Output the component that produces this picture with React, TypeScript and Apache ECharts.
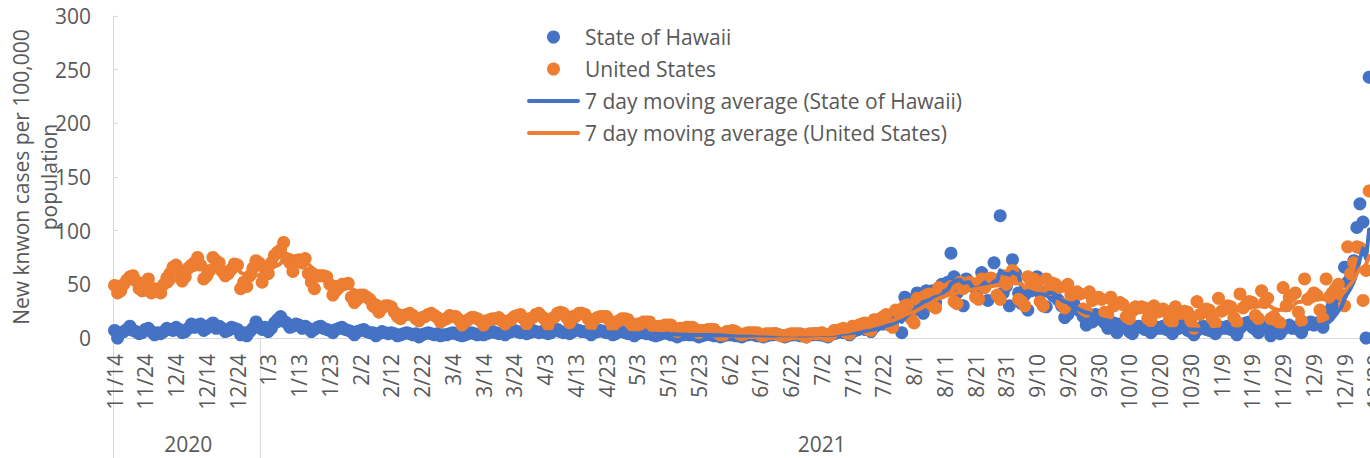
import React, { useEffect, useRef } from "react";
import * as echarts from "echarts";

// Daily categories: 11/14/2020 .. 12/31/2021
const START_YEAR = 2020;
const START_MONTH = 10; // November (0-based)
const START_DAY = 14;
const DAY_COUNT = 413;

// New known cases per 100,000 population, daily, starting 11/14/2020 (rows are weeks Sat..Fri)
const hawaiiDaily: number[] = [
  7, 0, 5, 6, 8, 11, 7,
  6, 4, 5, 8, 9, 6, 3,
  5, 4, 6, 9, 8, 7, 10,
  8, 5, 6, 9, 13, 10, 12,
  13, 7, 9, 12, 14, 9, 11,
  9, 6, 7, 10, 9, 8, 3,
  5, 2, 6, 9, 15, 11, 8,
  10, 6, 9, 14, 17, 20, 16,
  14, 10, 11, 13, 12, 9, 11,
  9, 6, 8, 10, 11, 9, 8,
  7, 5, 8, 9, 10, 8, 7,
  6, 3, 6, 7, 8, 6, 5,
  5, 2, 4, 6, 5, 4, 5,
  4, 2, 3, 4, 5, 4, 3,
  4, 1, 3, 4, 5, 4, 3,
  4, 2, 3, 3, 4, 5, 4,
  3, 2, 3, 4, 5, 4, 3,
  4, 3, 4, 5, 6, 5, 4,
  5, 3, 5, 6, 7, 6, 5,
  6, 4, 5, 7, 6, 5, 6,
  5, 4, 5, 7, 8, 6, 5,
  6, 4, 6, 8, 7, 6, 6,
  5, 3, 5, 6, 7, 6, 5,
  5, 3, 4, 6, 6, 5, 4,
  4, 2, 4, 5, 5, 4, 4,
  3, 2, 3, 4, 5, 4, 3,
  3, 1, 3, 3, 4, 3, 3,
  3, 1, 2, 3, 4, 3, 2,
  3, 1, 2, 3, 3, 3, 2,
  2, 1, 3, 3, 4, 3, 2,
  2, 1, 2, 3, 3, 4, 3,
  2, 1, 2, 3, 3, 3, 2,
  3, 1, 3, 3, 4, 3, 3,
  2, 1, 4, 4, 5, 6, 5,
  5, 3, 6, 7, 8, 9, 8,
  9, 6, 10, 12, 14, 13, 15,
  16, 12, 20, 24, 5, 38, 36,
  30, 26, 42, 40, 23, 44, 41,
  44, 33, 46, 50, 50, 52, 79,
  57, 42, 48, 30, 55, 52, 48,
  50, 45, 61, 52, 35, 55, 70,
  54, 114, 42, 48, 30, 73, 60,
  42, 32, 40, 26, 44, 50, 57,
  42, 30, 29, 46, 40, 38, 35,
  30, 19, 22, 28, 32, 27, 25,
  20, 12, 18, 15, 22, 19, 17,
  14, 9, 12, 14, 5, 13, 11,
  10, 6, 4, 9, 11, 10, 8,
  9, 5, 8, 10, 9, 11, 8,
  7, 4, 8, 9, 12, 10, 7,
  6, 3, 7, 9, 11, 8, 7,
  7, 4, 8, 10, 9, 11, 8,
  7, 3, 9, 12, 14, 15, 10,
  8, 5, 10, 11, 9, 2, 6,
  7, 4, 8, 10, 12, 9, 10,
  8, 5, 11, 13, 15, 12, 14,
  13, 10, 18, 25, 30, 38, 42,
  40, 66, 52, 57, 72, 103, 125,
  108, 0, 243,
];

const usDaily: number[] = [
  49, 42, 44, 50, 54, 57, 58,
  53, 46, 44, 52, 55, 42, 46,
  44, 42, 50, 56, 60, 66, 68,
  63, 53, 57, 65, 68, 70, 75,
  68, 55, 58, 63, 75, 72, 70,
  62, 58, 60, 64, 69, 68, 46,
  52, 48, 58, 65, 72, 70, 52,
  64, 60, 70, 77, 80, 82, 89,
  74, 70, 62, 72, 73, 70, 74,
  60, 52, 46, 58, 58, 58, 57,
  50, 40, 44, 47, 50, 50, 51,
  38, 33, 36, 40, 40, 38, 36,
  30, 28, 24, 28, 30, 30, 29,
  24, 20, 18, 21, 22, 23, 21,
  18, 16, 19, 20, 22, 23, 21,
  19, 15, 17, 18, 21, 20, 20,
  17, 12, 15, 17, 19, 19, 18,
  16, 12, 16, 17, 18, 18, 19,
  16, 13, 16, 17, 20, 21, 22,
  18, 13, 18, 19, 22, 23, 20,
  17, 12, 18, 19, 23, 24, 23,
  19, 14, 20, 20, 23, 23, 22,
  18, 12, 17, 19, 20, 20, 20,
  16, 11, 15, 16, 18, 18, 17,
  13, 9, 13, 13, 15, 15, 15,
  11, 8, 11, 11, 12, 12, 12,
  9, 6, 9, 9, 10, 10, 10,
  8, 5, 7, 7, 8, 8, 8,
  5, 3, 3, 6, 6, 7, 6,
  4, 3, 4, 5, 5, 5, 5,
  3, 2, 4, 4, 4, 4, 3,
  2, 2, 3, 4, 4, 4, 4,
  2, 1, 4, 4, 4, 4, 5,
  3, 2, 3, 7, 7, 8, 9,
  5, 4, 11, 10, 12, 13, 14,
  8, 7, 17, 15, 18, 20, 22,
  12, 10, 26, 24, 27, 30, 31,
  18, 14, 37, 34, 38, 40, 41,
  30, 28, 47, 42, 45, 46, 48,
  34, 32, 52, 46, 50, 52, 50,
  38, 36, 55, 47, 55, 56, 54,
  40, 36, 58, 50, 58, 63, 55,
  36, 34, 30, 57, 52, 55, 50,
  34, 30, 55, 45, 51, 50, 47,
  32, 28, 50, 40, 41, 43, 41,
  27, 25, 43, 35, 37, 38, 36,
  24, 22, 38, 30, 32, 33, 31,
  20, 18, 25, 29, 28, 29, 28,
  18, 16, 30, 24, 25, 27, 25,
  17, 15, 29, 23, 23, 25, 24,
  16, 9, 34, 22, 24, 27, 26,
  18, 14, 37, 25, 27, 30, 29,
  19, 15, 41, 28, 31, 34, 33,
  21, 18, 44, 33, 37, 18, 20,
  16, 14, 47, 30, 38, 40, 42,
  24, 16, 55, 36, 38, 42, 40,
  26, 18, 55, 38, 42, 46, 50,
  40, 30, 85, 60, 70, 85, 84,
  35, 63, 137,
];

const seriesNames = [
  "State of Hawaii",
  "United States",
  "7 day moving average (State of Hawaii)",
  "7 day moving average (United States)",
];
const BLUE = "#4472C4";
const ORANGE = "#ED7D31";
const TEXT = "#595959";
const AXIS = "#d9d9d9";
const FONT = "Open Sans";
const LINE_ICON = "path://M2,0 L51,0 A2,2 0 0 1 51,4 L2,4 A2,2 0 0 1 2,0 Z";

function buildDates() {
  const labels: string[] = [];
  const years: number[] = [];
  for (let i = 0; i < DAY_COUNT; i++) {
    const dt = new Date(Date.UTC(START_YEAR, START_MONTH, START_DAY + i));
    labels.push(`${dt.getUTCMonth() + 1}/${dt.getUTCDate()}`);
    years.push(dt.getUTCFullYear());
  }
  return { labels, years };
}

function movingAverage(values: number[], n: number): (number | null)[] {
  const out: (number | null)[] = [];
  for (let i = 0; i < values.length; i++) {
    if (i < n - 1) {
      out.push(null);
      continue;
    }
    let s = 0;
    for (let k = i - n + 1; k <= i; k++) s += values[k];
    out.push(s / n);
  }
  return out;
}

export default function App() {
  const ref = useRef<HTMLDivElement>(null);
  useEffect(() => {
    if (!ref.current) return;
    const chart = echarts.init(ref.current, undefined, { renderer: "svg" });
    const { labels, years } = buildDates();
    const firstOf2021 = years.indexOf(2021);
    const yearCenters = [Math.round((firstOf2021 - 1) / 2), Math.round((firstOf2021 + DAY_COUNT - 1) / 2)];

    chart.setOption({
      animation: false,
      textStyle: { fontFamily: FONT },
      grid: {
        left: 113,
        right: -13,
        top: 16,
        bottom: 120,
        containLabel: false,
        outerBoundsMode: "none",
      },
      legend: {
        orient: "vertical",
        left: 527,
        top: 24,
        padding: 0,
        itemWidth: 53,
        itemHeight: 13,
        itemGap: 6,
        data: [
          { name: seriesNames[0], icon: "circle" },
          { name: seriesNames[1], icon: "circle" },
          { name: seriesNames[2], icon: LINE_ICON },
          { name: seriesNames[3], icon: LINE_ICON },
        ],
        textStyle: { fontSize: 21, color: TEXT, fontFamily: FONT, lineHeight: 26 },
      },
      xAxis: [
        {
          type: "category",
          data: labels,
          boundaryGap: true,
          axisLine: { show: true, lineStyle: { color: AXIS, width: 1 } },
          axisTick: { show: false },
          axisLabel: {
            interval: 9,
            rotate: 90,
            margin: 16,
            fontSize: 21,
            color: TEXT,
            fontFamily: FONT,
          },
          splitLine: { show: false },
        },
        {
          type: "category",
          data: labels,
          boundaryGap: true,
          position: "bottom",
          axisLine: { show: false },
          axisTick: {
            show: true,
            length: 120,
            interval: (index: number) => index === 0 || index === firstOf2021,
            lineStyle: { color: AXIS, width: 1 },
          },
          axisLabel: {
            interval: (index: number) => yearCenters.indexOf(index) >= 0,
            formatter: (_v: string, index: number) => String(years[index]),
            margin: 95,
            fontSize: 21,
            color: TEXT,
            fontFamily: FONT,
          },
          splitLine: { show: false },
        },
      ],
      yAxis: {
        type: "value",
        min: 0,
        max: 300,
        interval: 50,
        name: "New knwon cases per 100,000\npopulation",
        nameLocation: "middle",
        nameRotate: 90,
        nameGap: 50,
        nameMoveOverlap: false,
        nameTextStyle: { fontSize: 21, color: TEXT, fontFamily: FONT, lineHeight: 28, align: "center" },
        axisLine: { show: true, lineStyle: { color: AXIS, width: 1 } },
        axisTick: { show: true, inside: true, length: 5, lineStyle: { color: AXIS } },
        axisLabel: { fontSize: 21, color: TEXT, margin: 22, fontFamily: FONT },
        splitLine: { show: false },
      },
      series: [
        {
          name: seriesNames[0],
          type: "scatter",
          data: hawaiiDaily,
          symbol: "circle",
          symbolSize: 13,
          itemStyle: { color: BLUE, opacity: 1 },
        },
        {
          name: seriesNames[1],
          type: "scatter",
          data: usDaily,
          symbol: "circle",
          symbolSize: 13,
          itemStyle: { color: ORANGE, opacity: 1 },
        },
        {
          name: seriesNames[2],
          type: "line",
          data: movingAverage(hawaiiDaily, 7),
          symbol: "none",
          showSymbol: false,
          lineStyle: { color: BLUE, width: 4, cap: "round", join: "round" },
          itemStyle: { color: BLUE },
        },
        {
          name: seriesNames[3],
          type: "line",
          data: movingAverage(usDaily, 7),
          symbol: "none",
          showSymbol: false,
          lineStyle: { color: ORANGE, width: 4, cap: "round", join: "round" },
          itemStyle: { color: ORANGE },
        },
      ],
    });
    return () => chart.dispose();
  }, []);

  return (
    <div
      ref={ref}
      style={{ position: "absolute", left: 0, top: 0, width: 1370, height: 458, background: "#fff" }}
    />
  );
}
